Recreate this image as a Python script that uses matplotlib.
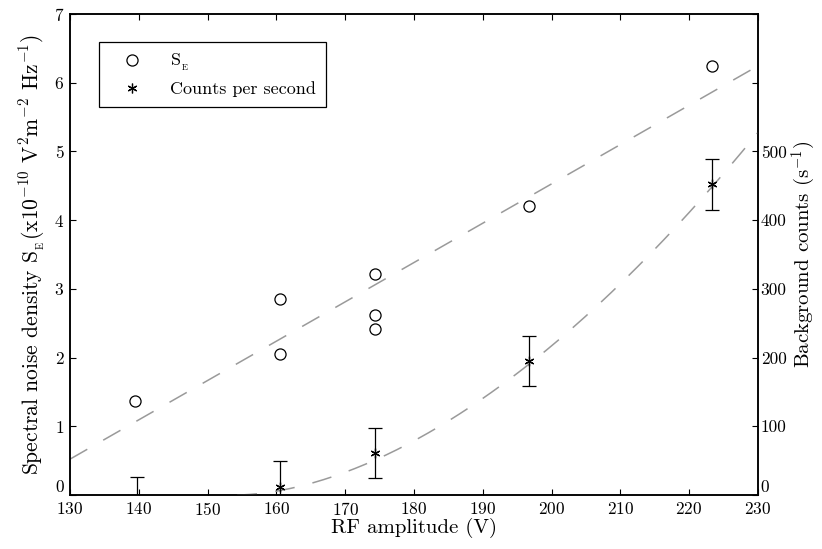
import numpy as np
import matplotlib
matplotlib.use("Agg")
import matplotlib.pyplot as plt
from matplotlib.lines import Line2D

plt.rcParams['font.family'] = 'serif'
plt.rcParams['font.serif'] = ['cmr10']
plt.rcParams['mathtext.fontset'] = 'cm'
plt.rcParams['axes.formatter.use_mathtext'] = True

# spectral noise density S_E (x1e-10 V^2 m^-2 Hz^-1)
se_volts = [139.4, 160.5, 160.5, 174.4, 174.4, 174.4, 196.7, 223.3]
se_vals = [1.37, 2.85, 2.05, 3.22, 2.62, 2.42, 4.20, 6.25]

# background counts per second
cps_volts = [139.8, 160.5, 174.4, 196.7, 223.3]
cps_vals = [-10, 12, 61, 195, 452]
cps_err = [36, 38, 36, 37, 37]

# threshold power-law curve for the counts
cps_v0 = 154.3
cps_scale = 0.26
cps_power = 1.76

fig = plt.figure(figsize=(8.22, 5.49), dpi=100)
ax = fig.add_axes([0.0852, 0.0984, 0.8368, 0.8761])
ax2 = ax.twinx()

# linear fit of S_E
p = np.polyfit(se_volts, se_vals, 1)
xf = np.linspace(130, 230, 200)
ax.plot(xf, np.polyval(p, xf), color='#9a9a9a', lw=1.1, dashes=(13, 12))
ax.plot(se_volts, se_vals, 'o', ms=8, mfc='none', mec='black', mew=0.9)

xc = np.linspace(cps_v0, 230, 200)
ax2.plot(xc, cps_scale * (xc - cps_v0) ** cps_power, color='#9a9a9a', lw=1.1, dashes=(13, 12))
ax2.errorbar(cps_volts, cps_vals, yerr=cps_err, fmt='none', ecolor='black',
             elinewidth=0.9, capsize=5, capthick=0.9)
ax2.plot(cps_volts, cps_vals, ls='none', marker=(6, 2, 0), ms=7, mec='black', mew=0.9)

ax.set_xlim(130, 230)
ax.set_ylim(0, 7)
ax2.set_ylim(0, 700)
ax.set_xticks(range(130, 231, 10))
ax.set_yticks(range(0, 8))
ax2.set_yticks(range(0, 701, 100))
ax2.set_yticklabels(['0', '100', '200', '300', '400', '500', '', ''])

ax.tick_params(axis='x', direction='in', top=True, labelsize=12.5, length=4, pad=4)
ax.tick_params(axis='y', direction='in', labelsize=12.5, length=4, pad=4)
ax2.tick_params(axis='y', direction='in', labelsize=12.5, length=4, pad=2)
for a in (ax, ax2):
    for s in a.spines.values():
        s.set_linewidth(1.1)

# the two "0" labels sit just above the axis corner so they clear 130 / 230
fig.canvas.draw()
ax.get_yticklabels()[0].set_va('bottom')
ax2.get_yticklabels()[0].set_va('bottom')

ax.set_xlabel('RF amplitude (V)', fontsize=15, labelpad=0)
ax.set_ylabel(r'Spectral noise density S$_{_\mathrm{E}}$(x10$^{-10}$ V$^{2}$m$^{-2}$ Hz$^{-1}$)',
              fontsize=15.5, labelpad=5)
ax2.set_ylabel(r'Background counts (s$^{-1}$)', fontsize=15, labelpad=2)

handles = [Line2D([], [], ls='none', marker='o', ms=8, mfc='none', mec='black', mew=0.9),
           Line2D([], [], ls='none', marker=(6, 2, 0), ms=7, mec='black', mew=0.9)]
leg = ax2.legend(handles, [r'S$_{_\mathrm{E}}$', 'Counts per second'], loc='upper left',
                 bbox_to_anchor=(0.042, 0.942), borderaxespad=0, fontsize=13,
                 fancybox=False, edgecolor='black', framealpha=1, handlelength=2.6,
                 handletextpad=0.8, borderpad=0.55, labelspacing=0.45)
leg.get_frame().set_linewidth(0.9)

fig.savefig('out.png', dpi=100)
